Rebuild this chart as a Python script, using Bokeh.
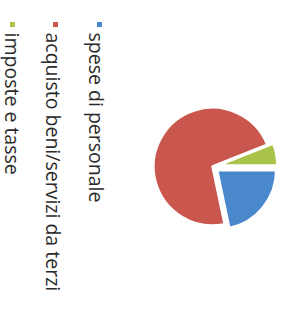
import math
from bokeh.plotting import figure
from bokeh.models import Range1d
from bokeh.core.properties import value
from bokeh.embed import file_html
from bokeh.resources import INLINE

# data
categories = ["spese di personale", "acquisto beni/servizi da terzi", "imposte e tasse"]
shares = [21.7, 72.3, 6.0]
colors = ["#4a88cc", "#c9574e", "#a9c24a"]
explode = [6, 0, 6]

W, H = 281, 303
IMG_H = 311
p = figure(width=W, height=H, output_backend="svg", toolbar_location=None,
           x_range=Range1d(0, W), y_range=Range1d(IMG_H - H, IMG_H),
           min_border=0, outline_line_color=None)
p.axis.visible = False
p.grid.visible = False
p.background_fill_color = "white"

cx, cy, r = 212, IMG_H - 166, 59
total = sum(shares)
cum = 0.0
for s, c, e in zip(shares, colors, explode):
    a0 = -2 * math.pi * (cum + s) / total
    a1 = -2 * math.pi * cum / total
    mid = (a0 + a1) / 2
    p.wedge(x=[cx + e * math.cos(mid)], y=[cy + e * math.sin(mid)], radius=r,
            radius_units="screen", start_angle=[a0], end_angle=[a1],
            fill_color=c, line_color="white", line_width=2.5)
    cum += s

# legend (rotated, reading top to bottom)
leg_x = [99, 55, 12]
base_x = [96, 53, 12]
for cat, c, lx, bx in zip(categories, colors, leg_x, base_x):
    p.scatter(x=[lx], y=[IMG_H - 24], marker="square", size=5,
              fill_color=c, line_color=None)
    p.text(x=[bx], y=[IMG_H - 32], text=[cat], angle=-math.pi / 2,
           text_font=value("Open Sans"), text_font_size="19.5px",
           text_color="#2a2a2a", text_baseline="alphabetic", text_align="left")

open("out.html", "w").write(file_html(p, INLINE))
